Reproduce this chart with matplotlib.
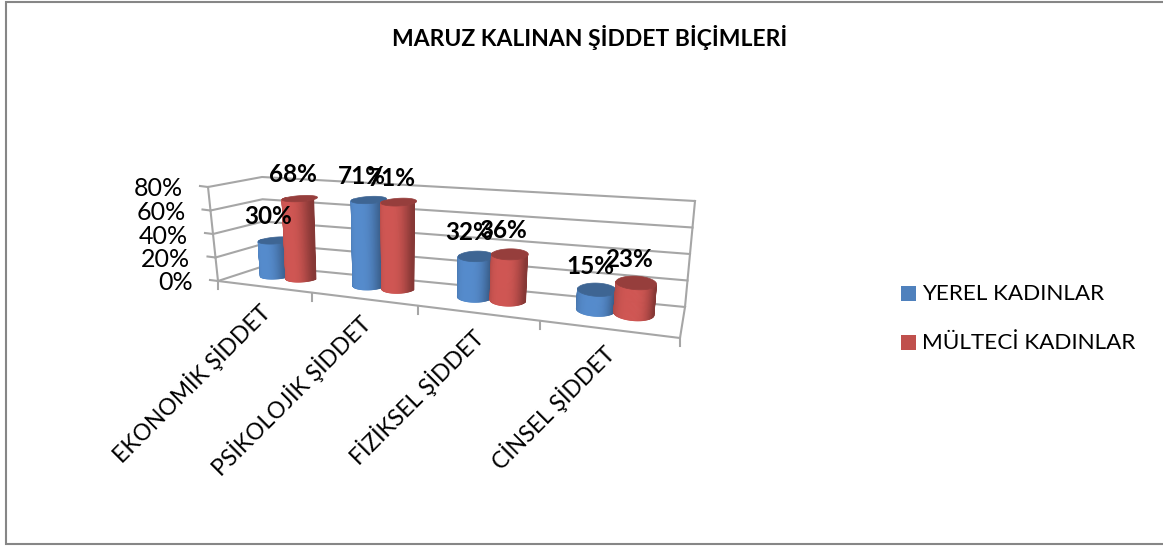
import numpy as np
import matplotlib
matplotlib.use('Agg')
import matplotlib.pyplot as plt
from matplotlib.collections import PolyCollection
from matplotlib.patches import Rectangle, Polygon

categories = ['EKONOMİK ŞİDDET', 'PSİKOLOJİK ŞİDDET', 'FİZİKSEL ŞİDDET', 'CİNSEL ŞİDDET']
yerel = [30, 71, 32, 15]
multeci = [68, 71, 36, 23]
series_names = ['YEREL KADINLAR', 'MÜLTECİ KADINLAR']
yticks = [0, 20, 40, 60, 80]

BLUE = np.array([0x4f, 0x81, 0xbd]) / 255
RED = np.array([0xc0, 0x50, 0x4d]) / 255
GRID = '#a6a6a6'
plt.rcParams['font.family'] = ['Lato', 'DejaVu Sans']

W, H = 1163, 548

# corners of the chart box in the picture: front left, front right, back right, back left
floor_box = np.array([(218, 281), (680, 338), (685, 307), (264, 266)], float)
top_box = np.array([(208, 187), (690, 226), (695, 201), (262, 177)], float)


def bilinear(box, s, v):
    fl, fr, br, bl = box
    return ((1 - v) * ((1 - s) * fl[0] + s * fr[0]) + v * ((1 - s) * bl[0] + s * br[0]),
            (1 - v) * ((1 - s) * fl[1] + s * fr[1]) + v * ((1 - s) * bl[1] + s * br[1]))


def project(u, v, val):
    # u along the categories, v into the depth, val in percent
    u = np.asarray(u, float)
    v = np.asarray(v, float)
    s = u / (u + 1.305 * (1 - u))
    xf, yf = bilinear(floor_box, s, v)
    xt, yt = bilinear(top_box, s, v)
    return xf + (xt - xf) * (val / 80), yf + (yt - yf) * (val / 80)


def cylinder(ax, uc, val, color, z):
    vc, ru, rv = 0.62, 0.037, 0.24
    ang = np.linspace(0, 2 * np.pi, 121)
    uu = uc + ru * np.cos(ang)
    vv = vc + rv * np.sin(ang)
    xb, yb = project(uu, vv, 0)
    xt, yt = project(uu, vv, val)
    # side of the cylinder, one strip per angle step on the front half
    polys, cols = [], []
    for i in range(60, 120):
        polys.append([(xb[i], yb[i]), (xb[i + 1], yb[i + 1]), (xt[i + 1], yt[i + 1]), (xt[i], yt[i])])
        s = np.cos(ang[i] + 0.05)
        shade = 1.08 - 0.38 * max(s, 0) ** 3 - 0.18 * max(-s, 0) ** 3
        cols.append(np.clip(color * shade, 0, 1))
    ax.add_collection(PolyCollection(polys, facecolors=cols, edgecolors=cols, linewidths=0.6, zorder=z))
    ax.add_patch(Polygon(np.column_stack([xt, yt]), closed=True, fc=color * 0.78, ec=color * 0.78, lw=0.5, zorder=z + 0.1))
    return project(uc, vc, val)


fig = plt.figure(figsize=(W / 100, H / 100), dpi=100)
ax = fig.add_axes([0, 0, 1, 1])
ax.set_xlim(0, W)
ax.set_ylim(H, 0)
ax.axis('off')

ax.add_patch(Rectangle((6, 2), W, 542, fc='white', ec='#868686', lw=1.5))

# walls and floor lines
for t in yticks:
    x, y = project([0, 0, 1], [0, 1, 1], t)
    ax.plot(x, y, color=GRID, lw=1.5, zorder=1)
    x0, y0 = project(0, 0, t)
    ax.plot([x0 - 8, x0], [y0 - 1, y0], color=GRID, lw=1.5, zorder=1)
    ax.text(x0 - 25, y0 + 2, f'{t}%', ha='right', va='center', fontsize=18, color='black')
x, y = project([0, 0], [0, 0], np.array([0, 80]))
ax.plot(x, y, color=GRID, lw=1.5, zorder=1)
x, y = project([1, 1], [1, 1], np.array([0, 80]))
ax.plot(x, y, color=GRID, lw=1.5, zorder=1)
x, y = project([0, 1, 1], [0, 0, 1], 0)
ax.plot(x, y, color=GRID, lw=1.5, zorder=1)

n = len(categories)
for i, name in enumerate(categories):
    x, y = project(i / n, 0, 0)
    ax.plot([x, x], [y, y + 8], color=GRID, lw=1.5, zorder=1)
    xc, yc = project((i + 0.5) / n, 0, 0)
    ax.text(xc + 3, yc + 21, name, rotation=45, rotation_mode='anchor', ha='right', va='center',
            fontsize=16.5, color='black')
x, y = project(1, 0, 0)
ax.plot([x, x], [y, y + 8], color=GRID, lw=1.5, zorder=1)

for i in range(n):
    uc = (i + 0.5) / n
    for j, (vals, color) in enumerate(zip([yerel, multeci], [BLUE, RED])):
        xt, yt = cylinder(ax, uc + (j - 0.5) * 0.072, vals[i], color, 3 + i + j * 0.5)
        ax.annotate(f'{vals[i]}%', (float(xt), float(yt)), xytext=(-5, 17), textcoords='offset points',
                    ha='center', va='center', fontsize=17.5, fontweight='bold', color='black', zorder=10)

ax.text(590, 37, 'MARUZ KALINAN ŞİDDET BİÇİMLERİ', ha='center', va='center', fontsize=16.5, fontweight='bold')

# legend drawn by hand to keep the two rows where they are
for name, color, yl in zip(series_names, [BLUE, RED], [294, 343]):
    ax.add_patch(Rectangle((901, yl - 8.5), 15, 15, fc=color, ec='none'))
    ax.text(922, yl, name, ha='left', va='center', fontsize=16.2, color='black')

fig.savefig('out.png', dpi=100)
